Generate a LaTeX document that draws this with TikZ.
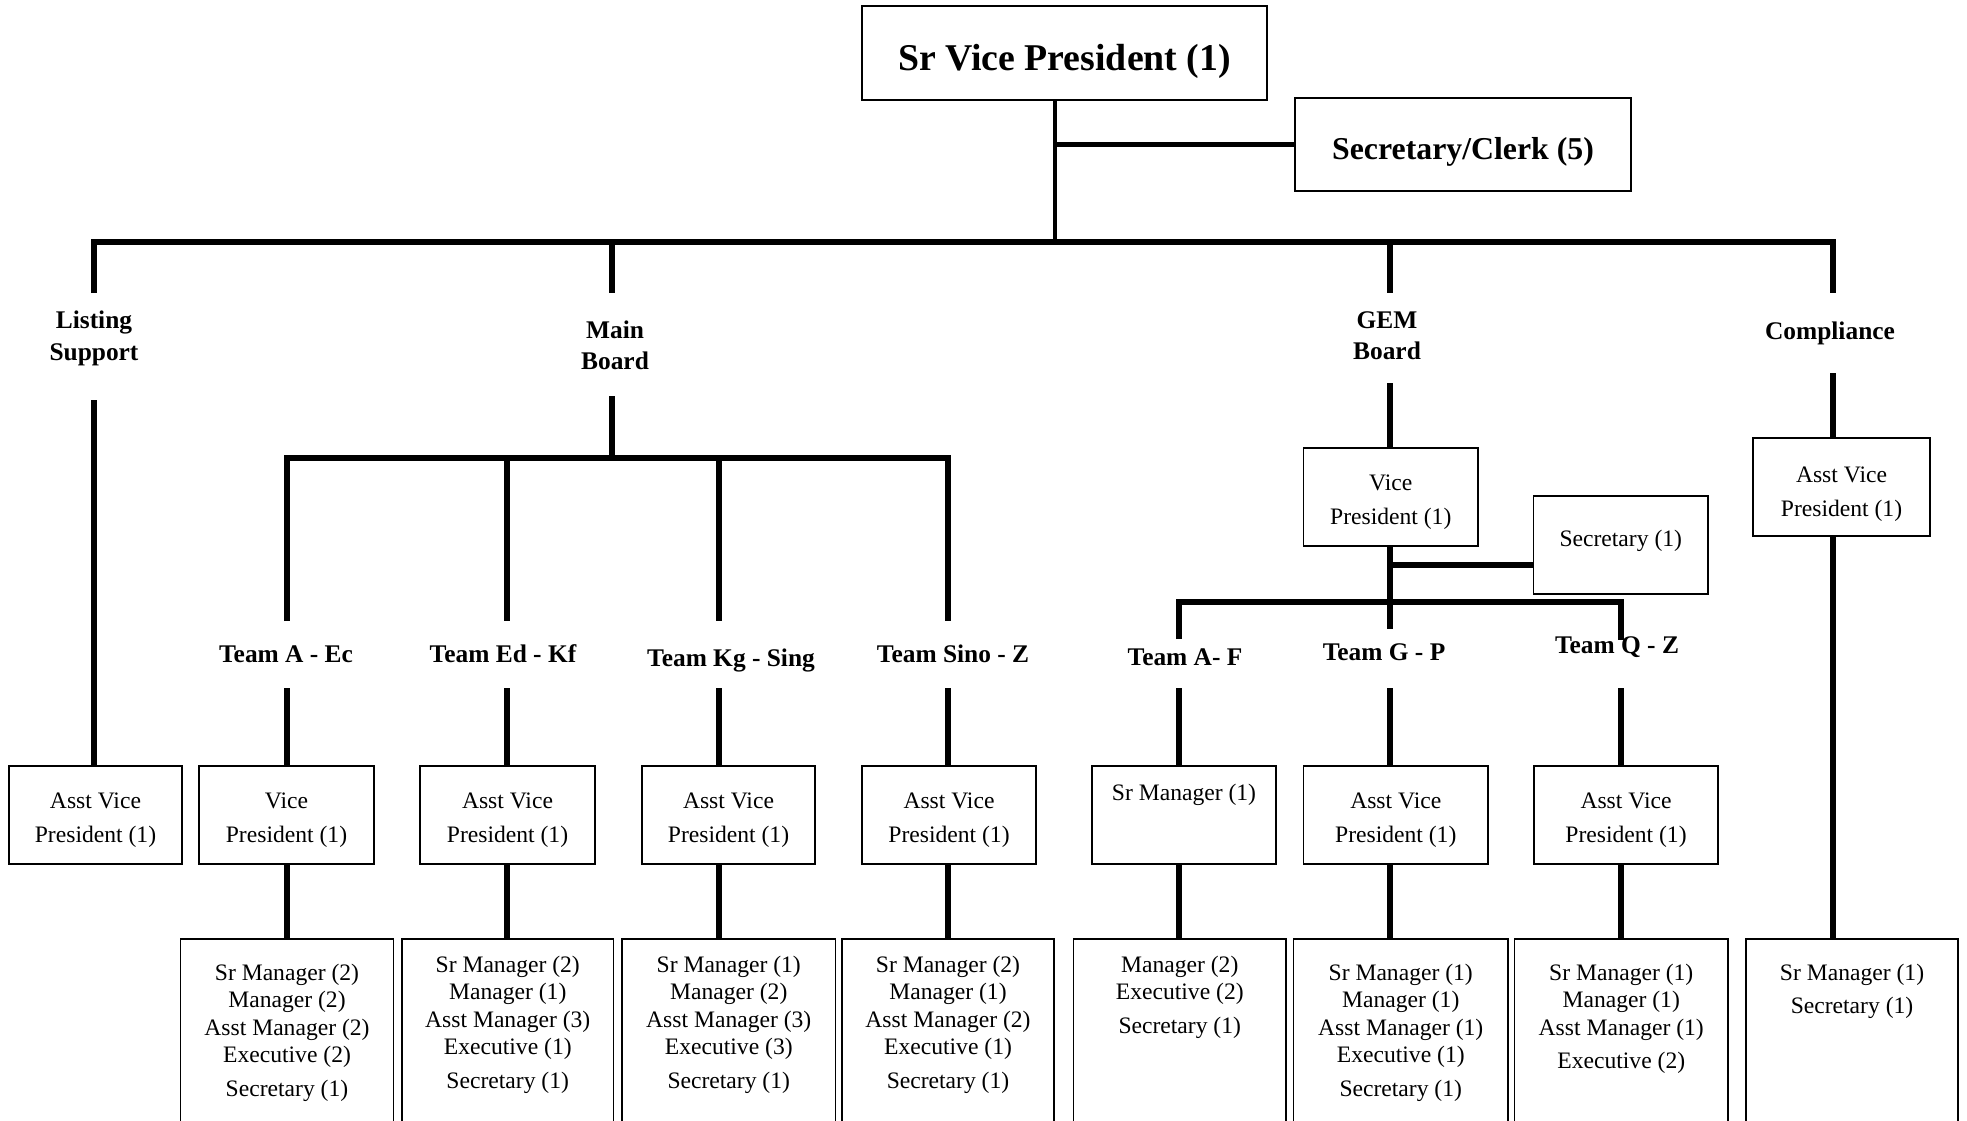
\documentclass[tikz,border=0pt]{standalone}
\usepackage{fontspec}
\setmainfont{Liberation Serif}
\usetikzlibrary{positioning}

\newcommand\topgap[1]{\rule{0pt}{#1}}

\tikzset{
  post/.style={draw, line width=1.6pt, inner sep=0pt, align=center,
    minimum height=98pt, font=\fontsize{23.6}{34}\selectfont},
  head/.style={post, font=\bfseries\fontsize{37.8}{42}\selectfont},
  clerk/.style={post, font=\bfseries\fontsize{31.8}{36}\selectfont},
  unit/.style={inner sep=0pt, align=center, font=\bfseries\fontsize{25.4}{31.4}\selectfont},
  staffbox/.style={draw, line width=1.6pt, anchor=north, minimum height=260pt},
  staff/.style={inner sep=0pt, align=center, anchor=north, font=\fontsize{23.6}{27.4}\selectfont},
  link/.style={line width=5.6pt},
}

\begin{document}
\begin{tikzpicture}[x=1pt,y=-1pt]
\useasboundingbox (0,0) rectangle (1967,1121);
\clip (0,0) rectangle (1967,1121);

% top of the tree
\node[head, minimum width=405pt, minimum height=94pt] (svp) at (1064.5,53) {\topgap{44pt}Sr Vice President (1)};
\node[clerk, minimum width=336pt, minimum height=93pt] (clerk) at (1463,144.5) {\topgap{36pt}Secretary/Clerk (5)};
\coordinate (hub) at (1055,242);
\draw[line width=3.5pt] (svp.south -| hub) -- (hub);
\draw[link] (clerk.west) -- (clerk.west -| hub); % to secretary/clerk

% main bar
\coordinate (d1) at (94,242);
\coordinate (d2) at (612,242);
\coordinate (d3) at (1390,242);
\coordinate (d4) at (1833,242);
\coordinate (lst1) at (94,293);
\coordinate (mb1) at (612,293);
\coordinate (gem1) at (1390,293);
\coordinate (cmp1) at (1833,293);
\draw[link] (lst1) -- (d1) -- (d4) -- (cmp1);
\draw[link] (d2) -- (mb1);
\draw[link] (d3) -- (gem1);

\node[unit] (lst) at (94,338.5) {Listing\\Support};
\node[unit] (mb) at (615,345.5) {Main\\Board};
\node[unit] (gem) at (1387,335.5) {GEM\\Board};
\node[unit] (cmp) at (1830,333.5) {Compliance};

% listing support
\coordinate (lst2) at (94,400);
\node[post, minimum width=173pt] (avp0) at (95.5,815) {\topgap{26pt}Asst Vice\\President (1)};
\draw[link] (lst2) -- (lst2 |- avp0.north);

% main board
\coordinate (mb2) at (612,396);
\coordinate (mbbar) at (612,458);
\draw[link] (mb2) -- (mbbar);
\coordinate (s1) at (287,458);
\coordinate (s2) at (507,458);
\coordinate (s3) at (719,458);
\coordinate (s4) at (948,458);
\coordinate (s1a) at (287,621);
\coordinate (s2a) at (507,621);
\coordinate (s3a) at (719,621);
\coordinate (s4a) at (948,621);
\draw[link] (s1a) -- (s1) -- (s4) -- (s4a);
\draw[link] (s2) -- (s2a);
\draw[link] (s3) -- (s3a);

\node[unit] (team1) at (286,654) {Team A - Ec};
\node[unit] (team2) at (503,654) {Team Ed - Kf};
\node[unit] (team3) at (731,660) {Team Kg - Sing};
\node[unit] (team4) at (953,654) {Team Sino - Z};

\coordinate (s1b) at (287,688);
\coordinate (s2b) at (507,688);
\coordinate (s3b) at (719,688);
\coordinate (s4b) at (948,688);
\node[post, minimum width=175pt] (vp1) at (286.5,815) {\topgap{26pt}Vice\\President (1)};
\node[post, minimum width=175pt] (avp2) at (507.5,815) {\topgap{26pt}Asst Vice\\President (1)};
\node[post, minimum width=173pt] (avp3) at (728.5,815) {\topgap{26pt}Asst Vice\\President (1)};
\node[post, minimum width=174pt] (avp4) at (949,815) {\topgap{26pt}Asst Vice\\President (1)};
\draw[link] (s1b) -- (s1b |- vp1.north);
\draw[link] (s2b) -- (s2b |- avp2.north);
\draw[link] (s3b) -- (s3b |- avp3.north);
\draw[link] (s4b) -- (s4b |- avp4.north);

\node[staffbox, minimum width=213pt] (box1) at (287,938) {};
\node[staffbox, minimum width=211.5pt] (box2) at (507.75,938) {};
\node[staffbox, minimum width=213.5pt] (box3) at (728.75,938) {};
\node[staffbox, minimum width=212pt] (box4) at (948,938) {};
\node[staff] (staff1) at (287,964) {Sr Manager (2)\\Manager (2)\\Asst Manager (2)\\Executive (2)\\[6pt]Secretary (1)};
\node[staff] (staff2) at (507.75,956) {Sr Manager (2)\\Manager (1)\\Asst Manager (3)\\Executive (1)\\[6pt]Secretary (1)};
\node[staff] (staff3) at (728.75,956) {Sr Manager (1)\\Manager (2)\\Asst Manager (3)\\Executive (3)\\[6pt]Secretary (1)};
\node[staff] (staff4) at (948,956) {Sr Manager (2)\\Manager (1)\\Asst Manager (2)\\Executive (1)\\[6pt]Secretary (1)};
\draw[link] (vp1.south -| s1b) -- (box1.north -| s1b);
\draw[link] (avp2.south -| s2b) -- (box2.north -| s2b);
\draw[link] (avp3.south -| s3b) -- (box3.north -| s3b);
\draw[link] (avp4.south -| s4b) -- (box4.north -| s4b);

% GEM board
\coordinate (gem2) at (1390,383);
\node[post, minimum width=174.5pt] (gvp) at (1390.75,497) {\topgap{26pt}Vice\\President (1)};
\node[post, minimum width=174.5pt] (gsec) at (1620.75,545) {Secretary (1)\rule[-13pt]{0pt}{13pt}};
\draw[link] (gem2) -- (gem2 |- gvp.north);
\coordinate (gj) at (1390,565);
\coordinate (g2a) at (1390,629);
\draw[link] (gvp.south -| gem2) -- (g2a);
\draw[link] (gj) -- (gj -| gsec.west); % to secretary
\coordinate (g1) at (1179,602);
\coordinate (g3) at (1621,602);
\coordinate (g1a) at (1179,639);
\coordinate (g3a) at (1621,640);
\draw[link] (g1a) -- (g1) -- (g3) -- (g3a);

\node[unit] (team5) at (1185,657) {Team A- F};
\node[unit] (team6) at (1384,652) {Team G - P};
\node[unit] (team7) at (1617,647) {Team Q - Z};

\coordinate (g1b) at (1179,688);
\coordinate (g2b) at (1390,688);
\coordinate (g3b) at (1621,688);
\node[post, minimum width=184pt] (smgr5) at (1184,815) {Sr Manager (1)\\[12pt]\mbox{}};
\node[post, minimum width=184.5pt] (avp6) at (1395.75,815) {\topgap{26pt}Asst Vice\\President (1)};
\node[post, minimum width=184pt] (avp7) at (1626,815) {\topgap{26pt}Asst Vice\\President (1)};
\draw[link] (g1b) -- (g1b |- smgr5.north);
\draw[link] (g2b) -- (g2b |- avp6.north);
\draw[link] (g3b) -- (g3b |- avp7.north);

\node[staffbox, minimum width=212.5pt] (box5) at (1179.75,938) {};
\node[staffbox, minimum width=214.5pt] (box6) at (1400.75,938) {};
\node[staffbox, minimum width=213.5pt] (box7) at (1621.25,938) {};
\node[staff] (staff5) at (1179.75,956) {Manager (2)\\Executive (2)\\[6pt]Secretary (1)};
\node[staff] (staff6) at (1400.75,964) {Sr Manager (1)\\Manager (1)\\Asst Manager (1)\\Executive (1)\\[6pt]Secretary (1)};
\node[staff] (staff7) at (1621.25,964) {Sr Manager (1)\\Manager (1)\\Asst Manager (1)\\[6pt]Executive (2)};
\draw[link] (smgr5.south -| g1b) -- (box5.north -| g1b);
\draw[link] (avp6.south -| g2b) -- (box6.north -| g2b);
\draw[link] (avp7.south -| g3b) -- (box7.north -| g3b);

% compliance
\coordinate (cmp2) at (1833,373);
\node[post, minimum width=177pt] (cavp) at (1841.5,487) {\topgap{31pt}Asst Vice\\President (1)};
\draw[link] (cmp2) -- (cmp2 |- cavp.north);
\node[staffbox, minimum width=212pt] (box8) at (1852,938) {};
\node[staff] (staff8) at (1852,964) {Sr Manager (1)\\[6pt]Secretary (1)};
\draw[link] (cavp.south -| cmp2) -- (box8.north -| cmp2);
\end{tikzpicture}
\end{document}
